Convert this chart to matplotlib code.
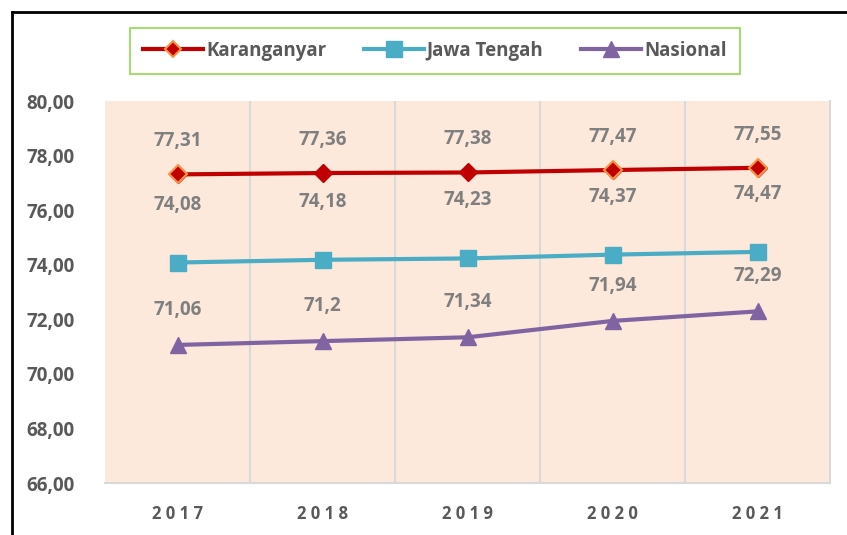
import matplotlib
matplotlib.use("Agg")
import matplotlib.pyplot as plt
from matplotlib.lines import Line2D

years = ["2017", "2018", "2019", "2020", "2021"]
karanganyar = [77.31, 77.36, 77.38, 77.47, 77.55]
jawa_tengah = [74.08, 74.18, 74.23, 74.37, 74.47]
nasional = [71.06, 71.20, 71.34, 71.94, 72.29]
kar_labels = ["77,31", "77,36", "77,38", "77,47", "77,55"]
jt_labels = ["74,08", "74,18", "74,23", "74,37", "74,47"]
nas_labels = ["71,06", "71,2", "71,34", "71,94", "72,29"]
yticks = [66, 68, 70, 72, 74, 76, 78, 80]
ytick_labels = ["66,00", "68,00", "70,00", "72,00", "74,00", "76,00", "78,00", "80,00"]
highlight_idx = [0, 3, 4]

FONT = ["Open Sans", "DejaVu Sans"]
GRAY = "#595959"
LBL = "#7F7F7F"
RED = "#C00000"
ORANGE = "#F79646"
BLUE = "#4BACC6"
PURPLE = "#8064A2"

fig = plt.figure(figsize=(8.47, 5.35), dpi=100)
ax = fig.add_axes([105/847, (535-483)/535, (830-105)/847, (483-101)/535])
ax.set_facecolor("#FCE9DC")

x = list(range(len(years)))
ax.plot(x, karanganyar, color=RED, lw=3, marker="D", ms=9, mec=RED, mfc=RED, zorder=3)
ax.plot([x[i] for i in highlight_idx], [karanganyar[i] for i in highlight_idx],
        ls="none", marker="D", ms=9, mfc=RED, mec=ORANGE, mew=1.5, zorder=4)
ax.plot(x, jawa_tengah, color=BLUE, lw=3, marker="s", ms=12, mec=BLUE, mfc=BLUE, zorder=3)
ax.plot(x, nasional, color=PURPLE, lw=3, marker="^", ms=12, mec=PURPLE, mfc=PURPLE, zorder=3)

for vals, labs, off in [(karanganyar, kar_labels, 33), (jawa_tengah, jt_labels, 58),
                        (nasional, nas_labels, 35)]:
    for xi, v, l in zip(x, vals, labs):
        ax.annotate(l, (xi, v), xytext=(0, off), textcoords="offset pixels",
                    ha="center", va="center", fontsize=13.5, fontweight="bold",
                    color=LBL, family=FONT)

ax.set_xlim(-0.5, len(years) - 0.5)
ax.set_ylim(66, 80)
ax.set_yticks(yticks)
ax.set_yticklabels(ytick_labels, fontsize=13.5, fontweight="bold", color=GRAY, family=FONT)
ax.set_xticks(x)
ax.set_xticklabels([" ".join(y) for y in years], fontsize=12, fontweight="bold",
                   color=GRAY, family=FONT)
ax.tick_params(axis="both", length=0)
ax.tick_params(axis="y", pad=22)
ax.tick_params(axis="x", pad=16)

for b in [0.5, 1.5, 2.5, 3.5]:
    ax.axvline(b, color="#D9D9D9", lw=1.5, zorder=1)

for s in ["top", "left"]:
    ax.spines[s].set_visible(False)
for s in ["bottom", "right"]:
    ax.spines[s].set_color("#D9D9D9")
    ax.spines[s].set_linewidth(1.5)

# outer frame lines
fig.add_artist(Line2D([12/847, 12/847], [0, 1 - 12/535], color="black", lw=2, transform=fig.transFigure))
fig.add_artist(Line2D([12/847, 1], [1 - 12/535, 1 - 12/535], color="black", lw=2, transform=fig.transFigure))

handles = [
    Line2D([], [], color=RED, lw=3, marker="D", ms=8, mfc=RED, mec=ORANGE, mew=1.5),
    Line2D([], [], color=BLUE, lw=3, marker="s", ms=11, mfc=BLUE, mec=BLUE),
    Line2D([], [], color=PURPLE, lw=3, marker="^", ms=11, mfc=PURPLE, mec=PURPLE),
]
leg = fig.legend(handles, ["Karanganyar", "Jawa Tengah", "Nasional"],
                 loc="center", bbox_to_anchor=(435/847, 1 - 51/535), ncol=3,
                 frameon=True, fancybox=False, handlelength=3.2, handletextpad=0.15,
                 columnspacing=2.0, borderpad=0.7, borderaxespad=0,
                 prop={"family": FONT, "weight": "bold", "size": 13.5})
leg._legend_box.sep = 0
leg.get_frame().set_edgecolor("#92D050")
leg.get_frame().set_linewidth(1.5)
for t in leg.get_texts():
    t.set_color(GRAY)

fig.savefig("out.png", dpi=100)
